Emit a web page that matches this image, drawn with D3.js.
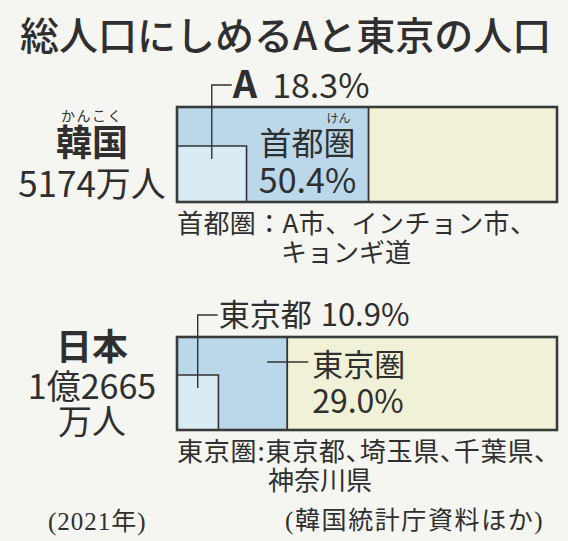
<!DOCTYPE html>
<html><head><meta charset="utf-8">
<script src="https://cdn.jsdelivr.net/npm/d3@7"></script>
<style>
html,body{margin:0;padding:0;background:#f5f5f2;}
svg{display:block;}
text{font-family:"Noto Sans CJK JP","Noto Sans",sans-serif;fill:#2f2f2f;}
</style></head>
<body>
<script>
// ---- data ----
const title = "総人口にしめるAと東京の人口";
const countries = ["韓国", "日本"];
const countryRuby = ["かんこく", ""];
const populationLines = [["5174万人"], ["1億2665", "万人"]];
const capitalNames = ["A", "東京都"];
const capitalShare = [18.3, 10.9];
const metroNames = ["首都圏", "東京圏"];
const metroRuby = ["けん", ""];
const metroShare = [50.4, 29.0];
const noteLines = [["首都圏：A市、インチョン市、", "キョンギ道"], ["東京圏:東京都、埼玉県、千葉県、", "神奈川県"]];
const yearNote = "(2021年)";
const sourceNote = "(韓国統計庁資料ほか)";

const W = 568, H = 541;
const svg = d3.select("body").append("svg").attr("width", W).attr("height", H);

const x = d3.scaleLinear().domain([0, 100]).range([177, 557]);
const y = d3.scaleOrdinal().domain(countries).range([107, 337]);
const barH = [95, 93];
const fmt = d3.format(".1f");

const colMetro = "#bad8ea", colCap = "#d9ebf3", colRest = "#f1f1d8", ink = "#333";

svg.append("text").attr("x", 20).attr("y", 50)
  .attr("font-size", 39).attr("font-weight", 500).text(title);

countries.forEach((c, i) => {
  const top = y(c), h = barH[i], bot = top + h;
  const g = svg.append("g");
  g.append("rect").attr("x", x(0)).attr("y", top).attr("width", x(100) - x(0)).attr("height", h).attr("fill", colRest);
  g.append("rect").attr("x", x(0)).attr("y", top).attr("width", x(metroShare[i]) - x(0)).attr("height", h).attr("fill", colMetro);
  const capTop = top + Math.round(h * 0.41);
  g.append("rect").attr("x", x(0)).attr("y", capTop).attr("width", x(capitalShare[i]) - x(0)).attr("height", bot - capTop).attr("fill", colCap);
  g.append("path").attr("d", `M${x(0)},${capTop}H${x(capitalShare[i])}V${bot}`)
    .attr("fill", "none").attr("stroke", ink).attr("stroke-width", 1.6);
  g.append("line").attr("x1", x(metroShare[i])).attr("x2", x(metroShare[i])).attr("y1", top).attr("y2", bot)
    .attr("stroke", ink).attr("stroke-width", 1.8);
  g.append("rect").attr("x", x(0)).attr("y", top).attr("width", x(100) - x(0)).attr("height", h)
    .attr("fill", "none").attr("stroke", "#3a3a3a").attr("stroke-width", 2.6);

  // capital leader + label
  const lx = x(capitalShare[i] / 2), ly = top - 22;
  g.append("path").attr("d", `M${lx + 20},${ly}H${lx}V${capTop + 13}`)
    .attr("fill", "none").attr("stroke", ink).attr("stroke-width", 1.4);
  const capLab = g.append("text").attr("x", lx + 21).attr("y", ly + (i === 0 ? 13 : 11));
  capLab.append("tspan").attr("font-size", i === 0 ? 38 : 31).attr("font-weight", i === 0 ? 700 : 400).text(capitalNames[i]);
  capLab.append("tspan").attr("font-size", i === 0 ? 34 : 31).attr("dx", i === 0 ? 15 : 9).text(fmt(capitalShare[i]) + "%");

  // metro label (one text block, multiple lines)
  if (i === 0) {
    const cx = (x(capitalShare[i]) + x(metroShare[i])) / 2;
    const t = g.append("text").attr("text-anchor", "middle");
    t.append("tspan").attr("x", cx + 31).attr("y", top + 16).attr("font-size", 12).text(metroRuby[i]);
    t.append("tspan").attr("x", cx).attr("y", top + 48).attr("font-size", 32).text(metroNames[i]);
    t.append("tspan").attr("x", cx).attr("y", top + 86).attr("font-size", 34).text(fmt(metroShare[i]) + "%");
  } else {
    const mx = x(metroShare[i]);
    g.append("line").attr("x1", mx - 20).attr("x2", mx + 21).attr("y1", top + 25).attr("y2", top + 25)
      .attr("stroke", ink).attr("stroke-width", 1.4);
    const t = g.append("text");
    t.append("tspan").attr("x", mx + 25).attr("y", top + 39).attr("font-size", 31).text(metroNames[i]);
    t.append("tspan").attr("x", mx + 25).attr("y", top + 76).attr("font-size", 32).text(fmt(metroShare[i]) + "%");
  }

  // country labels (one text block)
  const lcx = 92;
  const lab = g.append("text").attr("text-anchor", "middle");
  if (countryRuby[i]) {
    lab.append("tspan").attr("x", lcx).attr("y", top + 14).attr("font-size", 14).attr("letter-spacing", 1.5).text(countryRuby[i]);
  }
  const nameY = i === 0 ? top + 49 : top + 23;
  lab.append("tspan").attr("x", lcx).attr("y", nameY).attr("font-size", 36).attr("font-weight", 700).text(c);
  populationLines[i].forEach((t, k) => {
    lab.append("tspan").attr("x", lcx).attr("y", nameY + (i === 0 ? 41 : 39) + k * 35).attr("font-size", i === 0 ? 35 : 34).text(t);
  });

  // notes (one text block, two lines)
  const nt = g.append("text").attr("font-size", 26);
  const n0 = nt.append("tspan").attr("x", 177).attr("y", bot + 31);
  if (i === 1) n0.style("font-feature-settings", "'palt'").attr("letter-spacing", 0.8);
  else n0.attr("letter-spacing", 0.4);
  n0.text(noteLines[i][0]);
  nt.append("tspan").attr("x", i === 0 ? 281 : 268).attr("y", bot + 60).text(noteLines[i][1]);
});

svg.append("text").attr("x", 48).attr("y", 530).attr("font-size", 25).attr("letter-spacing", 1)
  .style("font-family", "'Liberation Serif','Noto Sans CJK JP',serif").text(yearNote);
svg.append("text").attr("x", 285).attr("y", 529).attr("font-size", 25).attr("letter-spacing", 1.6)
  .style("font-family", "'Liberation Serif','Noto Sans CJK JP',serif").text(sourceNote);
</script>
</body></html>
